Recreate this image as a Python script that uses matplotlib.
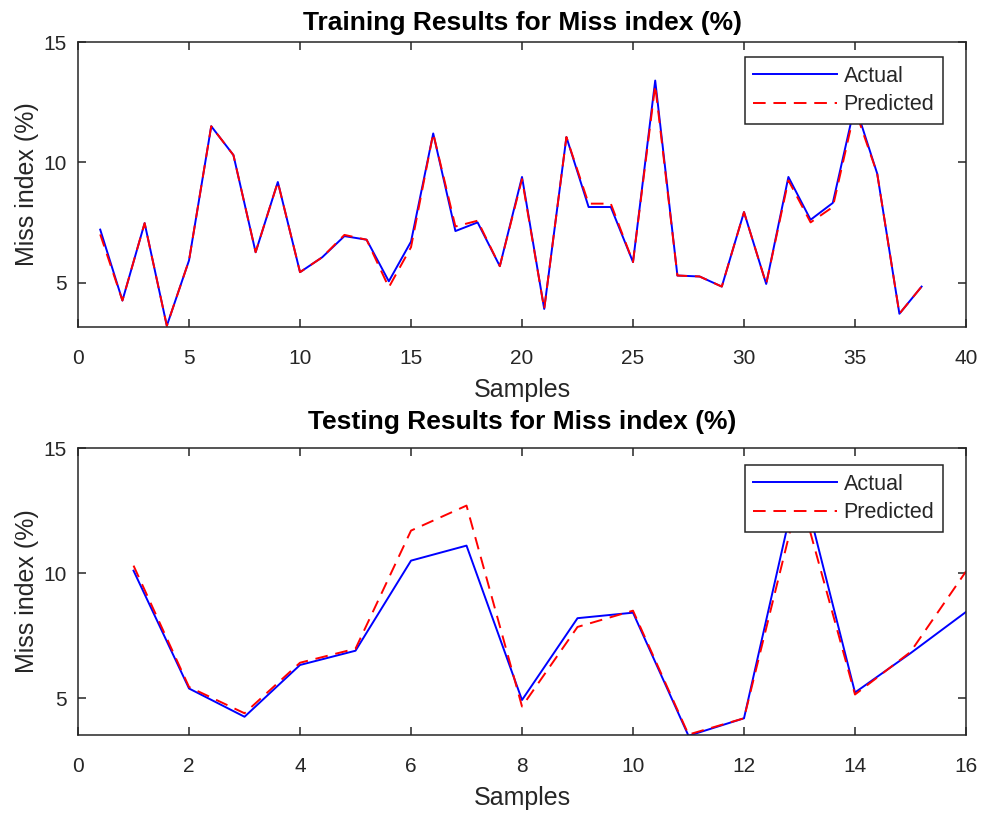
import numpy as np
import matplotlib
matplotlib.use("Agg")
import matplotlib.pyplot as plt

plt.rcParams['font.family'] = ['Liberation Sans', 'DejaVu Sans']

# training data (38 samples)
train_actual = [7.2, 4.25, 7.47, 3.2, 5.92, 11.5, 10.3, 6.26, 9.18, 5.43,
                6.05, 6.93, 6.78, 5.05, 6.7, 11.2, 7.14, 7.5, 5.68, 9.39,
                3.9, 11.05, 8.14, 8.14, 5.85, 13.4, 5.29, 5.25, 4.83, 7.93,
                4.94, 9.39, 7.61, 8.31, 12.4, 9.53, 3.7, 4.83]
train_pred = [7.0, 4.25, 7.47, 3.2, 5.92, 11.5, 10.3, 6.26, 9.18, 5.43,
              6.05, 6.98, 6.78, 4.8, 6.47, 11.2, 7.33, 7.57, 5.68, 9.3,
              3.9, 11.05, 8.28, 8.28, 5.85, 13.2, 5.29, 5.25, 4.83, 7.93,
              4.94, 9.25, 7.5, 8.14, 12.2, 9.53, 3.7, 4.83]

# testing data (16 samples)
test_actual = [10.1, 5.39, 4.26, 6.33, 6.9, 10.5, 11.1, 4.93,
               8.2, 8.42, 3.5, 4.2, 14.0, 5.23, 6.8, 8.45]
test_pred = [10.3, 5.45, 4.4, 6.42, 6.98, 11.7, 12.7, 4.67,
             7.85, 8.5, 3.55, 4.2, 13.2, 5.15, 6.85, 10.07]

axis_col = '#262626'


def draw_panel(ax, actual, pred, title, xmax, xticks, ylim, title_pad, leg_top):
    x = np.arange(1, len(actual) + 1)
    ax.plot(x, actual, color='blue', lw=1.4, label='Actual')
    ax.plot(x, pred, color='red', lw=1.4, ls='--', dashes=(6.5, 4), label='Predicted')
    ax.set_xlim(0, xmax)
    ax.set_ylim(*ylim)
    ax.set_xticks(xticks)
    ax.set_yticks([5, 10, 15])
    ax.set_title(title, fontsize=19, fontweight='bold', pad=title_pad)
    ax.set_xlabel('Samples', fontsize=18, color=axis_col, labelpad=7)
    ax.set_ylabel('Miss index (%)', fontsize=18, color=axis_col, labelpad=3)
    ax.tick_params(direction='in', length=6, width=1.1, labelsize=15,
                   colors=axis_col, top=True, right=True)
    ax.tick_params(axis='x', pad=16)
    ax.tick_params(axis='y', pad=8)
    for s in ax.spines.values():
        s.set_color(axis_col)
        s.set_linewidth(1.1)
    leg = ax.legend(loc='upper right', bbox_to_anchor=(0.974, leg_top),
                    borderaxespad=0, fontsize=15.5, handlelength=3.9,
                    fancybox=False, edgecolor=axis_col, framealpha=1,
                    labelspacing=0.35, handletextpad=0.3, borderpad=0.4)
    leg.get_frame().set_linewidth(1.1)
    for t in leg.get_texts():
        t.set_color(axis_col)


fig = plt.figure(figsize=(9.84, 8.14), dpi=100)
ax1 = fig.add_axes([0.0793, 0.5983, 0.9024, 0.350])
ax2 = fig.add_axes([0.0793, 0.097, 0.9024, 0.3526])

draw_panel(ax1, train_actual, train_pred, 'Training Results for Miss index (%)',
           40, range(0, 41, 5), (3.15, 15), 8.5, 0.947)
draw_panel(ax2, test_actual, test_pred, 'Testing Results for Miss index (%)',
           16, range(0, 17, 2), (3.53, 15), 14, 0.941)

fig.savefig('out.png', dpi=100)
